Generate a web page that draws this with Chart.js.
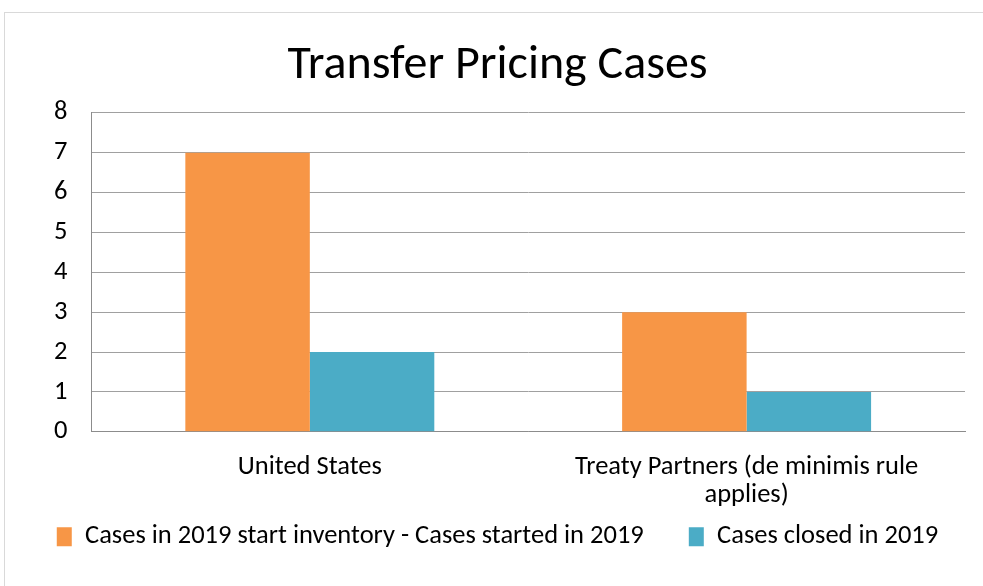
<!DOCTYPE html>
<html>
<head>
<meta charset="utf-8">
<script src="https://cdn.jsdelivr.net/npm/chart.js@4"></script>
<style>
  html, body { margin: 0; padding: 0; background: #fff; }
  #frame { position: absolute; left: 4px; top: 12px; width: 990px; height: 590px; border: 1px solid #d9d9d9; box-sizing: border-box; }
  #wrap { position: absolute; left: 0; top: 0; width: 983px; height: 586px; }
</style>
</head>
<body>
<div id="frame"></div>
<div id="wrap"><canvas id="chart" width="983" height="586"></canvas></div>
<script>
const categorias = [['United States'], ['Treaty Partners (de minimis rule', 'applies)']];
const inventario = [7, 3];
const cerrados = [2, 1];
const ticksY = [0, 1, 2, 3, 4, 5, 6, 7, 8];

const fuente = 'Carlito, Calibri, "Open Sans", sans-serif';

new Chart(document.getElementById('chart'), {
    type: 'bar',
    data: {
        labels: categorias,
        datasets: [{
            label: 'Cases in 2019 start inventory - Cases started in 2019',
            data: inventario,
            backgroundColor: '#F79646',
            categoryPercentage: 0.57,
            barPercentage: 1
        }, {
            label: 'Cases closed in 2019',
            data: cerrados,
            backgroundColor: '#4BACC6',
            categoryPercentage: 0.57,
            barPercentage: 1
        }]
    },
    options: {
        responsive: false,
        animation: false,
        layout: { padding: { left: 30, right: 18, top: 40, bottom: 36 } },
        plugins: {
            title: {
                display: true,
                text: 'Transfer Pricing Cases',
                color: '#000',
                font: { family: fuente, size: 48, weight: 'normal', lineHeight: 1.1 },
                padding: { top: 0, bottom: 20 }
            },
            legend: {
                position: 'bottom',
                maxHeight: 26.5,
                labels: {
                    color: '#000',
                    font: { family: fuente, size: 26.5 },
                    boxWidth: 15,
                    boxHeight: 19,
                    padding: 0,
                    // espacio extra entre las dos entradas de la leyenda
                    generateLabels: (chart) => Chart.defaults.plugins.legend.labels.generateLabels(chart)
                        .map((item, i) => i === 0 ? { ...item, text: item.text + '\u2003\u2002\u2009' } : item)
                }
            },
            tooltip: { enabled: false }
        },
        scales: {
            x: {
                grid: { display: false },
                border: { color: '#8c8c8c', width: 1 },
                ticks: { color: '#000', font: { family: fuente, size: 26.5, lineHeight: 1.05 }, padding: 14, maxRotation: 0 }
            },
            y: {
                min: 0,
                max: 8,
                afterBuildTicks: (eje) => { eje.ticks = ticksY.map(v => ({ value: v })); },
                grid: { color: '#a0a0a0', lineWidth: 1, drawTicks: false },
                border: { color: '#8c8c8c', width: 1 },
                ticks: { color: '#000', font: { family: fuente, size: 26.5 }, padding: 24 }
            }
        }
    }
});
</script>
</body>
</html>
